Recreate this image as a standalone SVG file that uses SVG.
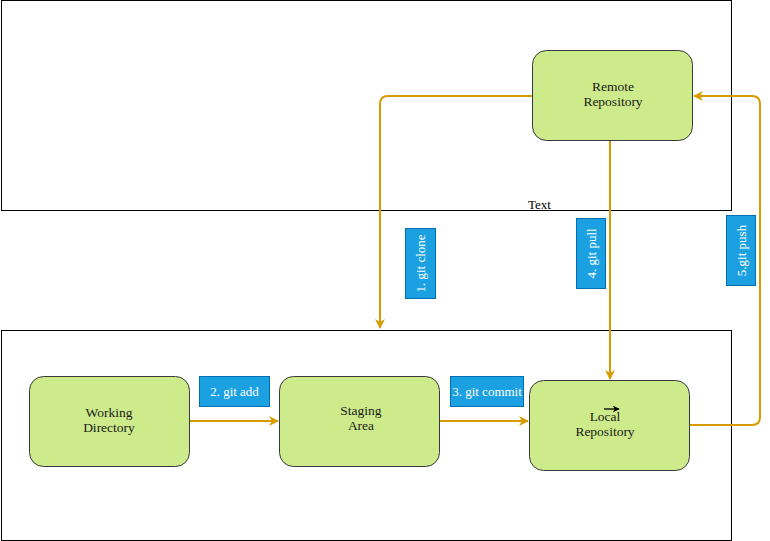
<svg xmlns="http://www.w3.org/2000/svg" width="770" height="541" viewBox="0 0 770 541">
<defs>
<style>
.frame{fill:none;stroke:#000;stroke-width:1}
.node{fill:#cdeb8b;stroke:#36393d;stroke-width:1}
.ntext{font-family:"Liberation Serif",Georgia,serif;font-size:13.5px;fill:#1a1a1a;text-anchor:middle}
.lbl{fill:#1ba1e2;stroke:#006eaf;stroke-width:1}
.ltext{font-family:"Liberation Serif",Georgia,serif;font-size:13px;fill:#fff;text-anchor:middle}
.edge{fill:none;stroke:#d79b00;stroke-width:2}
</style>
<marker id="arr" viewBox="0 0 10 10" refX="9" refY="5" markerWidth="11" markerHeight="10" markerUnits="userSpaceOnUse" orient="auto">
<path d="M0,0 L10,5 L0,10 L3,5 Z" fill="#d79b00"/>
</marker>
<marker id="arrk" viewBox="0 0 10 10" refX="9" refY="5" markerWidth="7" markerHeight="7" markerUnits="userSpaceOnUse" orient="auto">
<path d="M0,0 L10,5 L0,10 L3,5 Z" fill="#000"/>
</marker>
</defs>
<rect width="770" height="541" fill="#fff"/>
<g id="top-frame"><rect class="frame" x="1.5" y="0.5" width="730" height="210"/></g>
<g id="bottom-frame"><rect class="frame" x="1.5" y="330.5" width="730" height="210"/></g>
<g id="text-label"><text x="528" y="209" font-family="'Liberation Serif',Georgia,serif" font-size="13" fill="#000">Text</text></g>
<g id="connectors">
<path class="edge" marker-end="url(#arr)" d="M532,96 L388,96 Q380,96 380,104 L380,328"/>
<path class="edge" marker-end="url(#arr)" d="M610,140 L610,379"/>
<path class="edge" marker-end="url(#arr)" d="M690,425 L752,425 Q760,425 760,417 L760,104 Q760,96 752,96 L694,96"/>
<path class="edge" marker-end="url(#arr)" d="M189,421 L278,421"/>
<path class="edge" marker-end="url(#arr)" d="M439,421 L528,421"/>
</g>
<g id="remote"><rect class="node" x="532.5" y="50.5" width="160" height="90" rx="14"/>
<text class="ntext" x="613" y="91">Remote</text><text class="ntext" x="613" y="106">Repository</text></g>
<g id="working"><rect class="node" x="29.5" y="376.5" width="160" height="90" rx="14"/>
<text class="ntext" x="109" y="417">Working</text><text class="ntext" x="109" y="432">Directory</text></g>
<g id="staging"><rect class="node" x="279.5" y="376.5" width="160" height="90" rx="14"/>
<text class="ntext" x="361" y="415">Staging</text><text class="ntext" x="361" y="430">Area</text></g>
<g id="local"><rect class="node" x="529.5" y="380.5" width="160" height="90" rx="14"/>
<text class="ntext" x="605" y="421">Local</text><text class="ntext" x="605" y="436">Repository</text></g>
<g id="stray-arrow"><path d="M604,409 L619,409" stroke="#000" stroke-width="1.3" fill="none" marker-end="url(#arrk)"/></g>
<g id="lbl-add"><rect class="lbl" x="199.5" y="376.5" width="70" height="30"/><text class="ltext" x="234.5" y="395.5">2. git add</text></g>
<g id="lbl-commit"><rect class="lbl" x="450.5" y="376.5" width="73" height="30"/><text class="ltext" x="487" y="395.5">3. git commit</text></g>
<g id="lbl-clone"><rect class="lbl" x="405.5" y="228.5" width="30" height="70"/><text class="ltext" transform="translate(425,263.5) rotate(-90)">1. git clone</text></g>
<g id="lbl-pull"><rect class="lbl" x="576.5" y="218.5" width="29" height="70"/><text class="ltext" transform="translate(595.5,253.5) rotate(-90)">4. git pull</text></g>
<g id="lbl-push"><rect class="lbl" x="726.5" y="215.5" width="29" height="70"/><text class="ltext" transform="translate(745.5,250.5) rotate(-90)">5.git push</text></g>
</svg>
